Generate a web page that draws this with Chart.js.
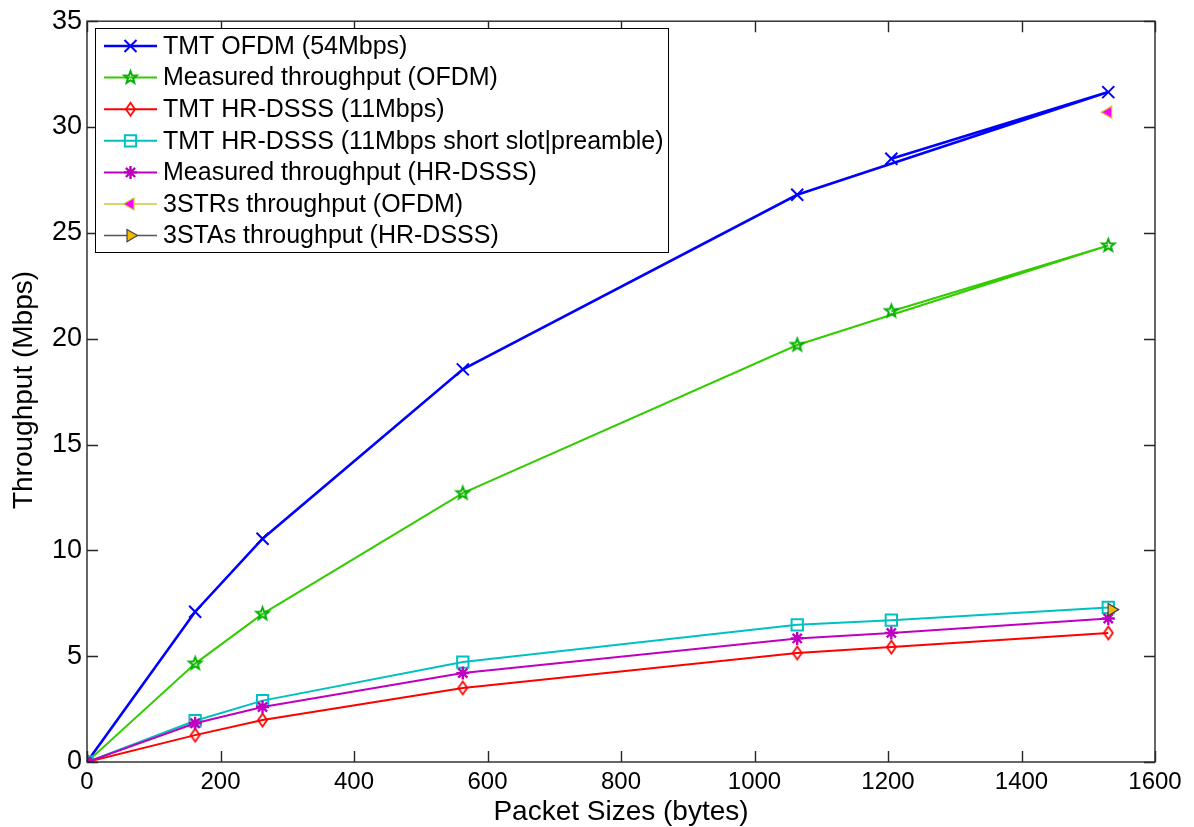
<!DOCTYPE html>
<html><head><meta charset="utf-8">
<script src="https://cdn.jsdelivr.net/npm/chart.js@4.4.1/dist/chart.umd.min.js"></script>
<style>html,body{margin:0;padding:0;background:#fff;overflow:hidden}#wrap{width:1194px;height:827px;position:relative}</style>
</head><body><div id="wrap"><canvas id="c"></canvas></div>
<script>
// ---- data ----
const xTickValues = [0,200,400,600,800,1000,1200,1400,1600];
const yTickValues = [0,5,10,15,20,25,30,35];
const sizesOfdm  = [0,162,263,563,1064,1530,1205];
const sizesDsss  = [0,162,263,563,1064,1205,1530];
const tmtOfdm      = [0,7.1,10.55,18.55,26.8,31.65,28.5];
const measuredOfdm = [0,4.65,7.0,12.7,19.7,24.4,21.3];
const tmtDsss      = [0,1.27,1.98,3.5,5.15,5.43,6.1];
const tmtDsssShort = [0,1.95,2.9,4.72,6.48,6.7,7.3];
const measuredDsss = [0,1.83,2.6,4.2,5.84,6.1,6.78];
const sizes3STR = [1530]; const thr3STR = [30.7];
const sizes3STA = [1535]; const thr3STA = [7.2];
const labels = ['TMT OFDM (54Mbps)','Measured throughput (OFDM)','TMT HR-DSSS (11Mbps)',
  'TMT HR-DSSS (11Mbps short slot|preamble)','Measured throughput (HR-DSSS)',
  '3STRs throughput (OFDM)','3STAs throughput (HR-DSSS)'];

const FONT = '"Liberation Sans", Arial, sans-serif';
const pts = (xs, ys) => xs.map((x,i)=>({x, y: ys[i]}));

function makePentagram(color, r, lw){
  const s = Math.ceil(2*r + lw*2 + 4);
  const c = document.createElement('canvas'); c.width = c.height = s;
  const g = c.getContext('2d'); g.strokeStyle = color; g.lineWidth = lw; g.lineJoin='miter';
  g.beginPath();
  for (let k=0;k<10;k++){ const a=-Math.PI/2 + k*Math.PI/5; const rr = k%2===0 ? r : r*0.42;
    const px = s/2 + rr*Math.cos(a), py = s/2 + rr*Math.sin(a); k ? g.lineTo(px,py) : g.moveTo(px,py); }
  g.closePath(); g.stroke(); return c;
}
function makeDiamond(color, w, h, lw){
  const cw = Math.ceil(w + lw*2 + 2), ch = Math.ceil(h + lw*2 + 2);
  const c = document.createElement('canvas'); c.width = cw; c.height = ch;
  const g = c.getContext('2d'); g.strokeStyle = color; g.lineWidth = lw;
  g.beginPath(); g.moveTo(cw/2, ch/2 - h/2); g.lineTo(cw/2 + w/2, ch/2); g.lineTo(cw/2, ch/2 + h/2); g.lineTo(cw/2 - w/2, ch/2); g.closePath(); g.stroke();
  return c;
}
const pentagram = makePentagram('#00b000', 6.5, 2);
const diamond = makeDiamond('#ff0000', 9, 13, 1.8);

const datasets = [
  {label: labels[0], data: pts(sizesOfdm, tmtOfdm), borderColor:'#0000ff', borderWidth:2.6,
   pointStyle:'crossRot', pointRadius:8.5, pointBorderColor:'#0000ff', pointBackgroundColor:'#0000ff', pointBorderWidth:2},
  {label: labels[1], data: pts(sizesOfdm, measuredOfdm), borderColor:'#33cc00', borderWidth:2,
   pointStyle: pentagram, pointRadius:7, pointBorderColor:'#00b000', pointBackgroundColor:'#00b000', pointBorderWidth:2},
  {label: labels[2], data: pts(sizesDsss, tmtDsss), borderColor:'#ff0000', borderWidth:2,
   pointStyle: diamond, pointRadius:7, pointBorderColor:'#ff0000', pointBackgroundColor:'#ff0000', pointBorderWidth:2},
  {label: labels[3], data: pts(sizesDsss, tmtDsssShort), borderColor:'#00c0c0', borderWidth:2,
   pointStyle:'rect', pointRadius:8, pointBorderColor:'#00c0c0', pointBackgroundColor:'rgba(0,0,0,0)', pointBorderWidth:2},
  {label: labels[4], data: pts(sizesDsss, measuredDsss), borderColor:'#c000c0', borderWidth:2,
   pointStyle:'star', pointRadius:6.5, pointBorderColor:'#c000c0', pointBackgroundColor:'#c000c0', pointBorderWidth:2.4},
  {label: labels[5], data: pts(sizes3STR, thr3STR), borderColor:'#c8c83c', borderWidth:1.5,
   pointStyle:'triangle', pointRotation:-90, pointRadius:7, pointBorderColor:'#c8c832', pointBackgroundColor:'#ff00ff', pointBorderWidth:1.2},
  {label: labels[6], data: pts(sizes3STA, thr3STA), borderColor:'#555555', borderWidth:1.5,
   pointStyle:'triangle', pointRotation:90, pointRadius:7, pointBorderColor:'#444444', pointBackgroundColor:'#f5b800', pointBorderWidth:1.2}
];
datasets.forEach((d,i)=>{ d.showLine = true; d.fill = false; d.tension = 0; d.order = 10 - i; d.pointHoverRadius = d.pointRadius; });

const L = 87, R = 1155, T = 18, B = 762;

const framePlugin = {
  id:'frame',
  afterDatasetsDraw(chart){
    const {ctx, chartArea:a, scales:{x, y}} = chart;
    ctx.save();
    ctx.strokeStyle = '#262626'; ctx.lineWidth = 1.4;
    ctx.strokeRect(a.left, a.top, a.right - a.left, a.bottom - a.top);
    const tl = 11;
    ctx.beginPath();
    xTickValues.forEach(v=>{ const px = Math.round(x.getPixelForValue(v)) + 0.5;
      ctx.moveTo(px, a.bottom); ctx.lineTo(px, a.bottom - tl);
      ctx.moveTo(px, a.top); ctx.lineTo(px, a.top + tl); });
    yTickValues.forEach(v=>{ const py = Math.round(y.getPixelForValue(v)) + 0.5;
      ctx.moveTo(a.left, py); ctx.lineTo(a.left + tl, py);
      ctx.moveTo(a.right, py); ctx.lineTo(a.right - tl, py); });
    ctx.stroke();
    ctx.restore();
  },
  afterDraw(chart){
    const ctx = chart.ctx;
    ctx.save();
    // legend box
    const bx = 95.5, by = 28.5, bw = 573, bh = 224;
    ctx.fillStyle = '#fff'; ctx.fillRect(bx, by, bw, bh);
    ctx.strokeStyle = '#000'; ctx.lineWidth = 1; ctx.strokeRect(bx, by, bw, bh);
    chart.data.datasets.forEach((d,i)=>{
      const yy = 46 + i*31.6;
      ctx.strokeStyle = d.borderColor; ctx.lineWidth = d.borderWidth;
      ctx.beginPath(); ctx.moveTo(104, yy); ctx.lineTo(157, yy); ctx.stroke();
      ctx.fillStyle = d.pointBackgroundColor; ctx.strokeStyle = d.pointBorderColor; ctx.lineWidth = d.pointBorderWidth;
      Chart.helpers.drawPoint(ctx, {pointStyle: d.pointStyle, rotation: d.pointRotation || 0, radius: d.pointRadius, borderWidth: d.pointBorderWidth}, 130.5, yy);
      ctx.fillStyle = '#000'; ctx.font = '25px ' + FONT; ctx.textBaseline = 'middle'; ctx.textAlign = 'left';
      ctx.fillText(d.label, 163, yy + 1);
    });
    // axis titles
    ctx.fillStyle = '#000'; ctx.font = '28px ' + FONT; ctx.textAlign = 'center'; ctx.textBaseline = 'middle';
    ctx.fillText('Packet Sizes (bytes)', (L + R)/2, 812);
    ctx.translate(24, (T + B)/2); ctx.rotate(-Math.PI/2);
    ctx.fillText('Throughput (Mbps)', 0, 0);
    ctx.restore();
  }
};

new Chart(document.getElementById('c'), {
  type: 'scatter',
  data: { datasets },
  plugins: [framePlugin],
  options: {
    responsive: true, maintainAspectRatio: false, animation: false,
    layout: { padding: { top: T, right: 1194 - R, left: 0, bottom: 0 } },
    plugins: { legend: { display: false }, tooltip: { enabled: false } },
    scales: {
      x: { type: 'linear', min: 0, max: 1600,
        afterFit: s => { s.height = 827 - B; },
        afterBuildTicks: s => { s.ticks = xTickValues.map(v=>({value:v})); },
        grid: { display: false, drawTicks: false }, border: { display: false },
        ticks: { padding: 6, color: '#000', font: { family: FONT, size: 24 }, maxRotation: 0,
          callback: v => String(v) } },
      y: { type: 'linear', min: 0, max: 35,
        afterFit: s => { s.width = L; },
        afterBuildTicks: s => { s.ticks = yTickValues.map(v=>({value:v})); },
        grid: { display: false, drawTicks: false }, border: { display: false },
        ticks: { padding: 5, color: '#000', font: { family: FONT, size: 27 }, callback: v => String(v) } }
    }
  }
});
</script></body></html>
